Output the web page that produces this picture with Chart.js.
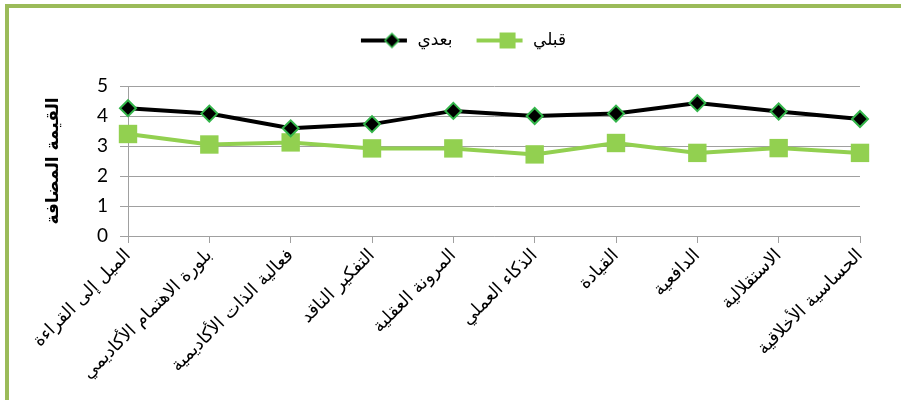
<!DOCTYPE html>
<html>
<head>
<meta charset="utf-8">
<script src="https://cdn.jsdelivr.net/npm/chart.js@4"></script>
<style>
  body { margin: 0; background: #fff; }
  #frame {
    position: absolute; left: 5px; top: 4px;
    width: 892px; height: 396px;
    border-left: 4px solid #9bbb59; border-top: 4px solid #9bbb59;
  }
  #chart { display: block; }
</style>
</head>
<body>
<div id="frame"><canvas id="chart" width="892" height="392"></canvas></div>
<script>
const categories = [
  "الميل إلى القراءة",
  "بلورة الاهتمام الأكاديمي",
  "فعالية الذات الأكاديمية",
  "التفكير الناقد",
  "المرونة العقلية",
  "الذكاء العملي",
  "القيادة",
  "الدافعية",
  "الاستقلالية",
  "الحساسية الأخلاقية"
];
const seriesNames = ["بعدي", "قبلي"];
const afterValues = [4.26, 4.08, 3.59, 3.73, 4.17, 4.0, 4.08, 4.43, 4.15, 3.9];
const beforeValues = [3.4, 3.05, 3.12, 2.92, 2.92, 2.72, 3.1, 2.77, 2.93, 2.77];
const yTicks = [0, 1, 2, 3, 4, 5];
const yTitle = "القيمة المضافة";

const arabicFont = "'DejaVu Sans', sans-serif";

// legend swatch: line with marker, like the office legend
function swatch(color, drawMarker) {
  const c = document.createElement("canvas");
  c.width = 50; c.height = 20;
  const g = c.getContext("2d");
  g.strokeStyle = color; g.lineWidth = 4;
  g.beginPath(); g.moveTo(2, 10); g.lineTo(48, 10); g.stroke();
  drawMarker(g, 33, 10);
  return c;
}
const blackSwatch = swatch("#000", (g, x, y) => {
  g.beginPath();
  g.moveTo(x, y - 7); g.lineTo(x + 7, y); g.lineTo(x, y + 7); g.lineTo(x - 7, y); g.closePath();
  g.fillStyle = "#000"; g.fill();
  g.strokeStyle = "#33b54a"; g.lineWidth = 1.5; g.stroke();
});
const greenSwatch = swatch("#92d050", (g, x, y) => {
  g.fillStyle = "#92d050"; g.fillRect(x - 8, y - 8, 16, 16);
});

// extra room under the legend, and centre it on the whole canvas
const legendGap = {
  id: "legendGap",
  beforeInit(chart) {
    const fit = chart.legend.fit;
    chart.legend.fit = function () {
      fit.bind(chart.legend)();
      this.height += 27;
    };
  },
  afterLayout(chart) {
    chart.legend.left += 28;
    chart.legend.right += 28;
  }
};

new Chart(document.getElementById("chart").getContext("2d"), {
  type: "line",
  data: {
    labels: categories,
    datasets: [
      {
        label: seriesNames[0],
        data: afterValues,
        borderColor: "#000",
        borderWidth: 4,
        pointStyle: "rectRot",
        pointRadius: 8,
        pointBackgroundColor: "#000",
        pointBorderColor: "#33b54a",
        pointBorderWidth: 2,
        tension: 0
      },
      {
        label: seriesNames[1],
        data: beforeValues,
        borderColor: "#92d050",
        borderWidth: 4,
        pointStyle: "rect",
        pointRadius: 13,
        pointBackgroundColor: "#92d050",
        pointBorderColor: "#92d050",
        pointBorderWidth: 0,
        tension: 0
      }
    ]
  },
  plugins: [legendGap],
  options: {
    responsive: false,
    animation: false,
    layout: { padding: { top: 2, right: 41, left: 0, bottom: 0 } },
    plugins: {
      tooltip: { enabled: false },
      legend: {
        position: "top",
        labels: {
          usePointStyle: true,
          pointStyleWidth: 50,
          padding: 22,
          color: "#000",
          font: { family: arabicFont, size: 17 },
          generateLabels: (chart) => chart.data.datasets.map((ds, i) => ({
            text: ds.label,
            pointStyle: i === 0 ? blackSwatch : greenSwatch,
            datasetIndex: i,
            fontColor: "#000",
            lineWidth: 0
          }))
        }
      }
    },
    scales: {
      x: {
        offset: false,
        grid: { drawOnChartArea: false, drawTicks: true, tickLength: 7, color: "#a0a0a0" },
        border: { color: "#a0a0a0" },
        ticks: {
          autoSkip: false,
          minRotation: 45,
          maxRotation: 45,
          padding: 2,
          color: "#000",
          font: { family: arabicFont, size: 18 }
        },
        afterFit: (s) => { s.height = 164; }
      },
      y: {
        min: 0,
        max: 5,
        afterBuildTicks: (s) => { s.ticks = yTicks.map(v => ({ value: v })); },
        grid: { color: "#a0a0a0", tickLength: 8 },
        border: { color: "#a0a0a0" },
        ticks: {
          padding: 12,
          color: "#000",
          font: { family: "Lato, sans-serif", size: 19 }
        },
        title: {
          display: true,
          text: yTitle,
          color: "#000",
          padding: { top: 34, bottom: 0 },
          font: { family: arabicFont, size: 17, weight: "bold" }
        },
        afterFit: (s) => { s.width = 119; }
      }
    }
  }
});
</script>
</body>
</html>
